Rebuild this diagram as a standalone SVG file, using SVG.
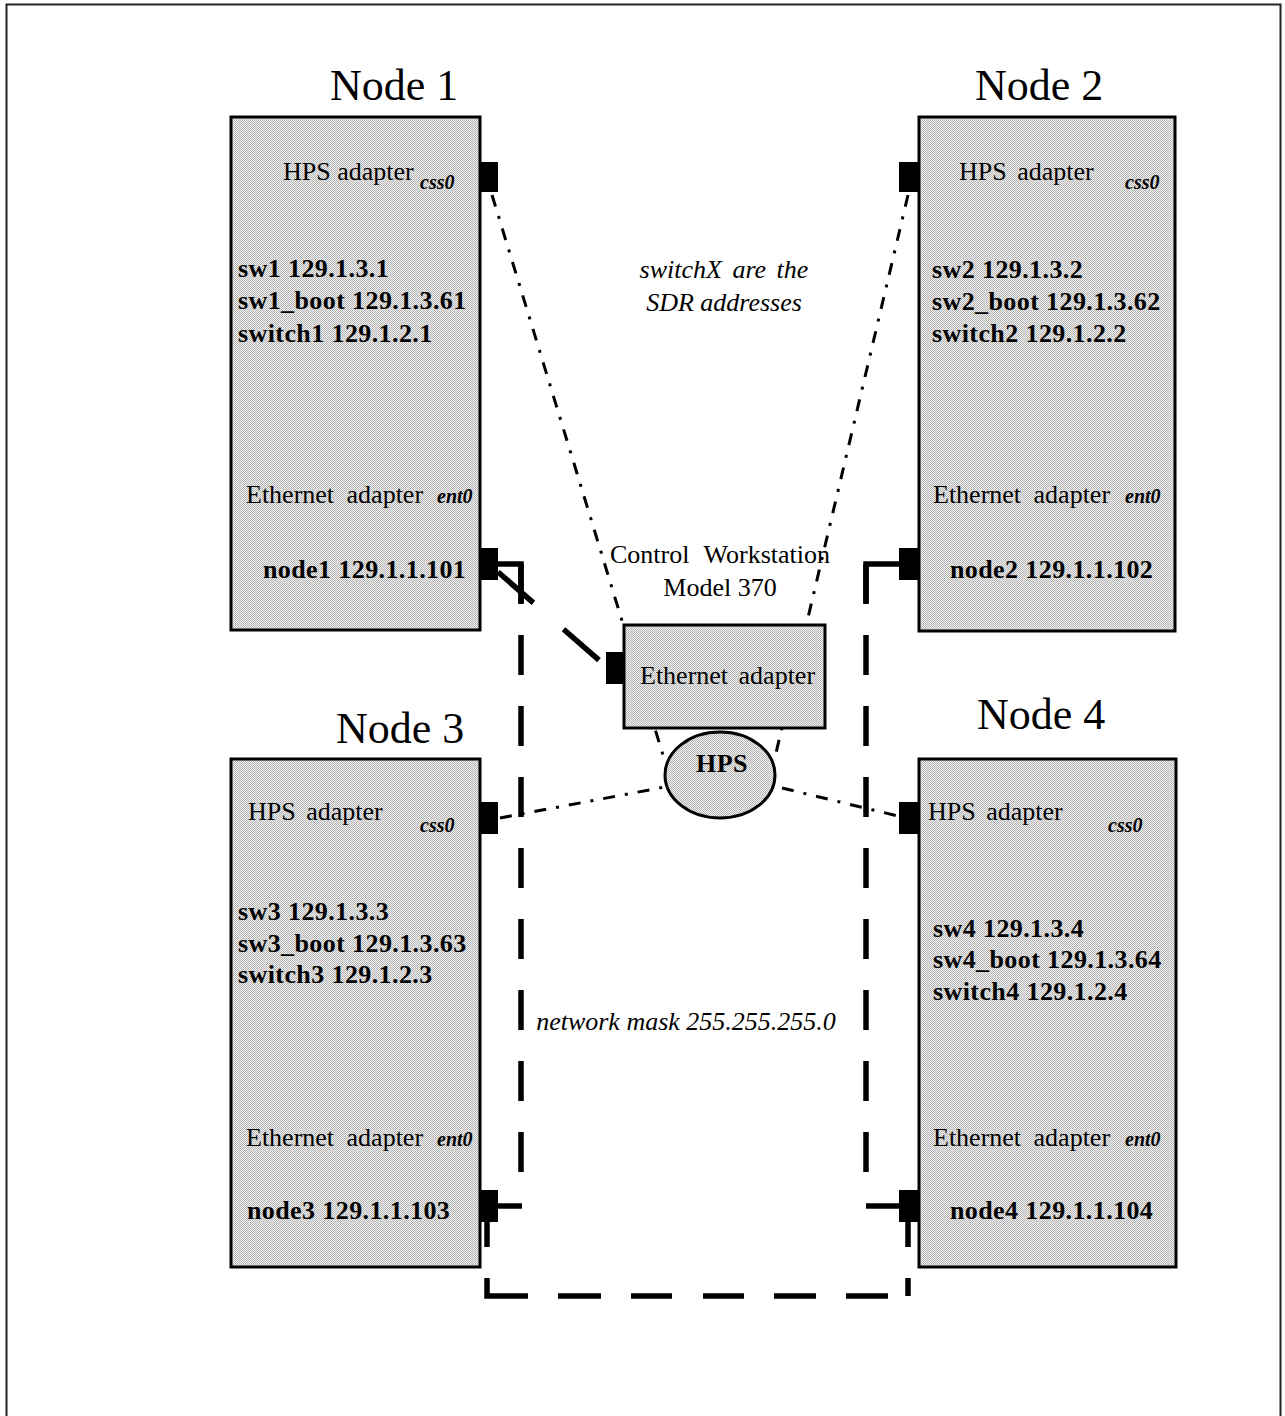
<svg xmlns="http://www.w3.org/2000/svg" width="1285" height="1416" viewBox="0 0 1285 1416">
<defs>
<pattern id="stip" patternUnits="userSpaceOnUse" x="0" y="0" width="2" height="2">
<rect width="2" height="2" fill="#f2f2f2"/>
<rect x="0" y="0" width="1" height="1" fill="#b4b4b4"/>
<rect x="1" y="1" width="1" height="1" fill="#b4b4b4"/>
</pattern>
<style>
.box{fill:url(#stip);stroke:#000;stroke-width:3}
.port{fill:#000}
.t{font-family:"Liberation Serif","Times New Roman",serif;font-size:26px;fill:#000}
.b{font-weight:bold;letter-spacing:0.4px}
.i{font-style:italic}
.s{font-size:20px;font-style:italic;font-weight:bold}
.title{font-family:"Liberation Serif","Times New Roman",serif;font-size:44px;fill:#000}
.hps{fill:none;stroke:#000;stroke-width:3;stroke-dasharray:12 10 3 10}
.eth{fill:none;stroke:#000;stroke-width:5.5}
.ethd{fill:none;stroke:#000;stroke-width:5.5;stroke-dasharray:40 31}
</style>
</defs>
<rect x="0" y="0" width="1285" height="1416" fill="#fff"/>
<rect x="6.5" y="4.5" width="1274" height="1430" fill="none" stroke="#222" stroke-width="2"/>

<g id="connectors">
<line class="hps" x1="492" y1="195" x2="663" y2="755"/>
<line class="hps" x1="908" y1="195" x2="776" y2="753"/>
<line class="hps" x1="500" y1="818" x2="665" y2="787"/>
<line class="hps" x1="782" y1="788" x2="898" y2="816"/>
<line class="eth" stroke-dasharray="47 40" x1="498" y1="572" x2="608" y2="668"/>
<polyline class="eth" points="498,564 521,564 521,603"/>
<line class="ethd" x1="521" y1="564" x2="521" y2="1178"/>
<line class="eth" x1="498" y1="1206" x2="522" y2="1206"/>
<polyline class="eth" points="899,564 866,564 866,603"/>
<line class="ethd" x1="866" y1="564" x2="866" y2="1178"/>
<line class="eth" x1="866" y1="1206" x2="899" y2="1206"/>
<path class="eth" stroke-dasharray="25 31 59 30 43 30 41 31 41 30 42 30 42 20 18 31 25 0" d="M487,1222 V1296 H908 V1222"/>
</g>

<g id="node1">
<text class="title" x="330" y="100">Node 1</text>
<rect class="box" x="231" y="117" width="249" height="513"/>
<rect class="port" x="481" y="162" width="17" height="30"/>
<rect class="port" x="481" y="548" width="17" height="32"/>
<text class="t" x="283" y="180">HPS adapter</text>
<text class="t s" x="420" y="189">css0</text>
<text class="t b" x="238" y="277">sw1 129.1.3.1</text>
<text class="t b" x="238" y="309">sw1_boot 129.1.3.61</text>
<text class="t b" x="238" y="342">switch1 129.1.2.1</text>
<text class="t" x="246" y="503" word-spacing="6">Ethernet adapter</text>
<text class="t s" x="437" y="503">ent0</text>
<text class="t b" x="263" y="578">node1 129.1.1.101</text>
</g>

<g id="node2">
<text class="title" x="975" y="100">Node 2</text>
<rect class="box" x="919" y="117" width="256" height="514"/>
<rect class="port" x="899" y="162" width="19" height="30"/>
<rect class="port" x="899" y="548" width="19" height="32"/>
<text class="t" x="959" y="180" word-spacing="4">HPS adapter</text>
<text class="t s" x="1125" y="189">css0</text>
<text class="t b" x="932" y="278">sw2 129.1.3.2</text>
<text class="t b" x="932" y="310">sw2_boot 129.1.3.62</text>
<text class="t b" x="932" y="342">switch2 129.1.2.2</text>
<text class="t" x="933" y="503" word-spacing="6">Ethernet adapter</text>
<text class="t s" x="1125" y="503">ent0</text>
<text class="t b" x="950" y="578">node2 129.1.1.102</text>
</g>

<g id="node3">
<text class="title" x="336" y="743">Node 3</text>
<rect class="box" x="231" y="759" width="249" height="508"/>
<rect class="port" x="481" y="802" width="17" height="32"/>
<rect class="port" x="481" y="1190" width="17" height="32"/>
<text class="t" x="248" y="820" word-spacing="4">HPS adapter</text>
<text class="t s" x="420" y="832">css0</text>
<text class="t b" x="238" y="920">sw3 129.1.3.3</text>
<text class="t b" x="238" y="952">sw3_boot 129.1.3.63</text>
<text class="t b" x="238" y="983">switch3 129.1.2.3</text>
<text class="t" x="246" y="1146" word-spacing="6">Ethernet adapter</text>
<text class="t s" x="437" y="1146">ent0</text>
<text class="t b" x="247" y="1219">node3 129.1.1.103</text>
</g>

<g id="node4">
<text class="title" x="977" y="729">Node 4</text>
<rect class="box" x="919" y="759" width="257" height="508"/>
<rect class="port" x="899" y="802" width="19" height="32"/>
<rect class="port" x="899" y="1190" width="19" height="32"/>
<text class="t" x="928" y="820" word-spacing="4">HPS adapter</text>
<text class="t s" x="1108" y="832">css0</text>
<text class="t b" x="933" y="937">sw4 129.1.3.4</text>
<text class="t b" x="933" y="968">sw4_boot 129.1.3.64</text>
<text class="t b" x="933" y="1000">switch4 129.1.2.4</text>
<text class="t" x="933" y="1146" word-spacing="6">Ethernet adapter</text>
<text class="t s" x="1125" y="1146">ent0</text>
<text class="t b" x="950" y="1219">node4 129.1.1.104</text>
</g>

<g id="cws">
<text class="t" x="720" y="563" text-anchor="middle" word-spacing="8">Control Workstation</text>
<text class="t" x="720" y="596" text-anchor="middle">Model 370</text>
<rect class="box" x="624" y="625" width="201" height="103"/>
<rect class="port" x="606" y="652" width="18" height="32"/>
<text class="t" x="640" y="684" word-spacing="4">Ethernet adapter</text>
</g>

<g id="hps">
<ellipse class="box" cx="720" cy="775" rx="55" ry="43"/>
<text class="t b" x="722" y="772" text-anchor="middle">HPS</text>
</g>

<g id="labels">
<text class="t i" x="724" y="278" text-anchor="middle" word-spacing="4">switchX are the</text>
<text class="t i" x="724" y="311" text-anchor="middle">SDR addresses</text>
<text class="t i" x="686" y="1030" text-anchor="middle">network mask 255.255.255.0</text>
</g>
</svg>
